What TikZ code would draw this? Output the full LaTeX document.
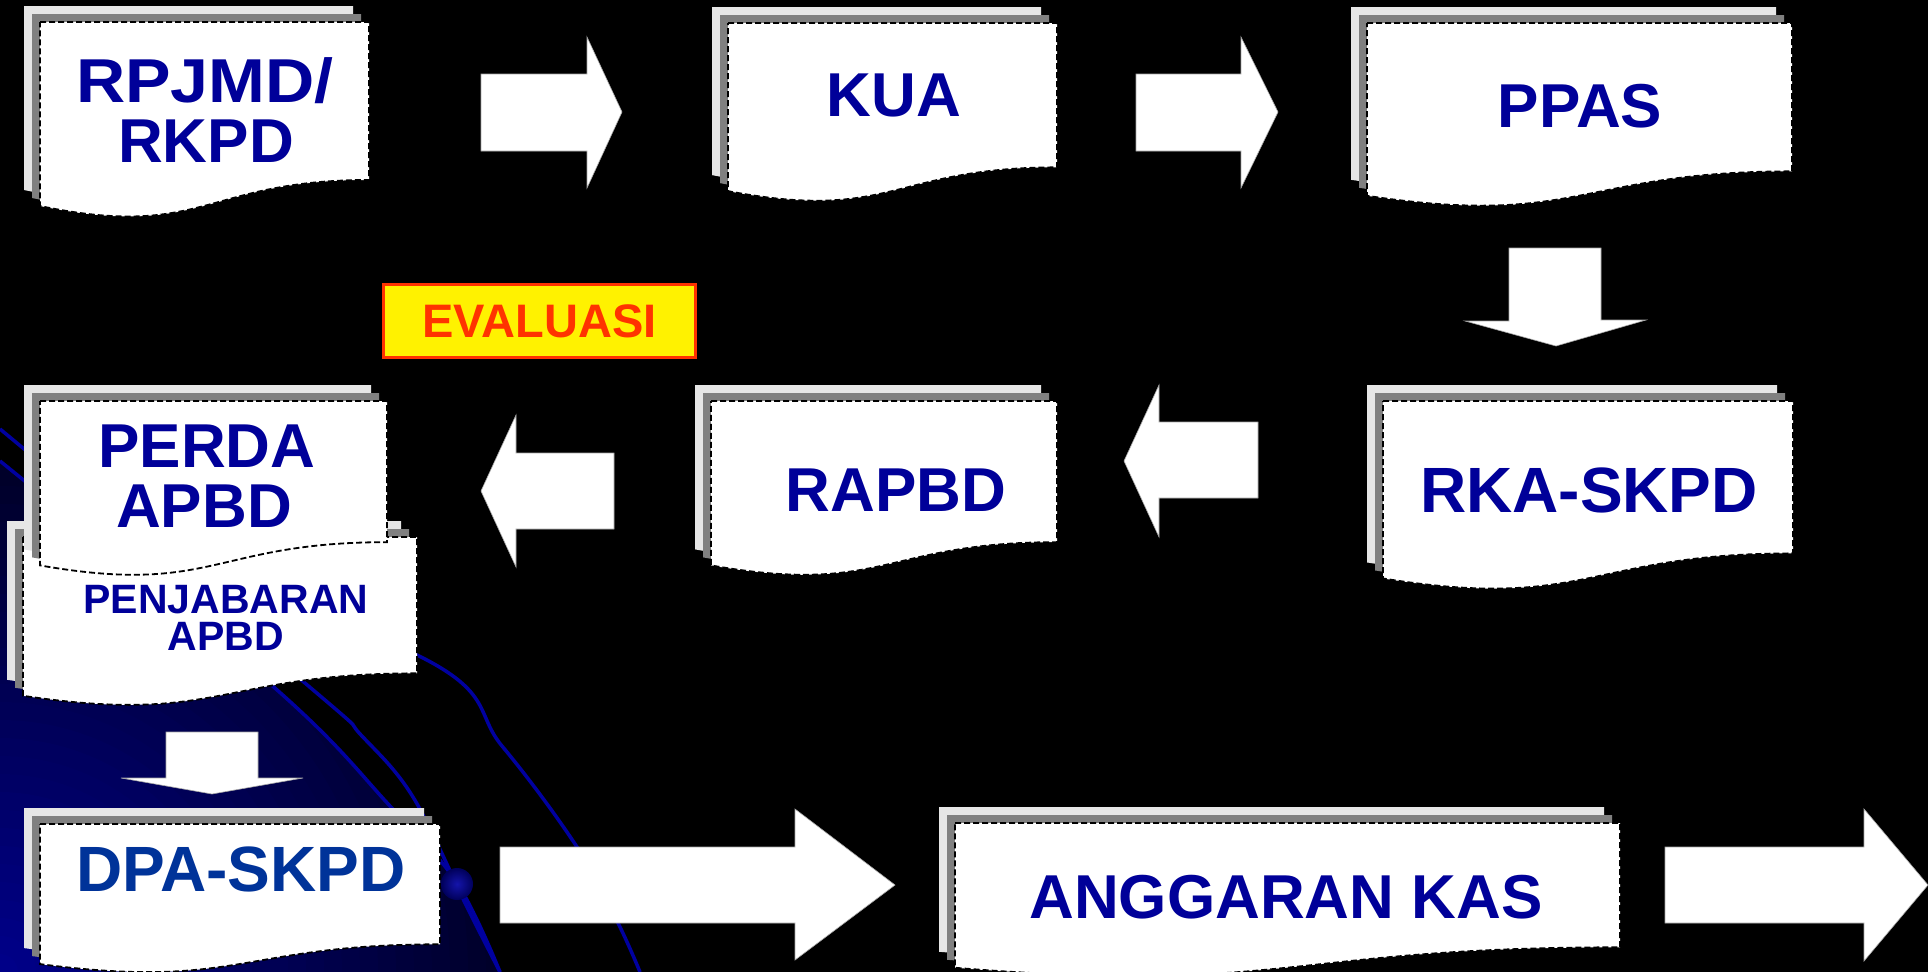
\documentclass[tikz,border=0pt]{standalone}
\usepackage{fontspec}
\setmainfont{Liberation Sans}
\definecolor{txtblue}{RGB}{0,0,153}
\definecolor{dpablue}{RGB}{0,51,153}
\definecolor{evred}{RGB}{255,51,0}
\definecolor{sheetlight}{RGB}{230,230,230}
\definecolor{sheetdark}{RGB}{128,128,128}
\definecolor{orbit}{RGB}{0,0,160}
\definecolor{glow}{RGB}{0,0,140}
\definecolor{ballin}{RGB}{20,20,170}
\definecolor{ballout}{RGB}{0,0,90}
\tikzset{
  frontsheet/.style={fill=white, draw=black, line width=1.8pt, dash pattern=on 6pt off 3pt},
  lightsheet/.style={fill=sheetlight},
  darksheet/.style={fill=sheetdark},
  blockarrow/.style={fill=white, draw=gray!70, line width=0.6pt},
  orbitline/.style={draw=orbit, line width=3.5pt},
  doclabel/.style={text=txtblue, font=\fontsize{62}{62}\selectfont\bfseries, anchor=base, inner sep=0pt},
  biglabel/.style={doclabel, font=\fontsize{64}{64}\selectfont\bfseries},
  smalllabel/.style={doclabel, font=\fontsize{41}{41}\selectfont\bfseries},
  evalbox/.style={draw=evred, fill=yellow, line width=3pt, text=evred,
    font=\fontsize{47}{47}\selectfont\bfseries, minimum width=312pt, minimum height=73pt, inner sep=0pt}
}
\newcommand{\docsheet}[5]{%
  \path[#5] ({#1},{#2}) -- ({#1+#3},{#2}) -- ({#1+#3},{#2+0.802*#4})
    .. controls ({#1+0.5*#3},{#2+0.802*#4}) and ({#1+0.5*#3},{#2+1.1075*#4}) .. ({#1},{#2+0.934*#4}) -- cycle;}
\newcommand{\multidoc}[4]{%
  \docsheet{#1-16}{#2-16}{#3}{#4}{lightsheet}%
  \docsheet{#1-8}{#2-8}{#3}{#4}{darksheet}%
  \docsheet{#1}{#2}{#3}{#4}{frontsheet}}
\begin{document}
\begin{tikzpicture}[x=1pt,y=-1pt]
\useasboundingbox (0,0) rectangle (1928,972);
\fill[black] (0,0) rectangle (1928,972);
% background glow in the lower left
\begin{scope}
  \clip plot[smooth,tension=0.6] coordinates {(0,461) (276,689) (390,806) (457,883) (500,972)} -- (0,972) -- cycle;
  \foreach \i in {0,...,39} {
    \pgfmathsetmacro\pc{2.5*\i}
    \pgfmathsetmacro\rr{720*(1-\i/40)}
    \fill[glow!\pc!black] (0,972) circle (\rr pt);
  }
\end{scope}
% orbit lines
\draw[orbitline] plot[smooth,tension=0.6] coordinates {(0,461) (276,689) (390,806) (457,883) (500,972)};
\draw[orbitline] plot[smooth,tension=0.6] coordinates {(0,429) (312,689) (361,735) (413,797) (467,907) (500,972)};
\draw[orbitline] plot[smooth,tension=0.6] coordinates {(40,520) (417,655) (502,746) (577,847) (618,923) (640,972)};
\shade[inner color=ballin, outer color=ballout] (457,884) circle (16pt);
% documents
\multidoc{40}{22}{329}{197}
\multidoc{728}{23}{329}{180}
\multidoc{1367}{23}{425}{185}
\multidoc{1383}{401}{410}{190}
\multidoc{711}{401}{346}{176}
\multidoc{23}{537}{394}{170}
\multidoc{40}{401}{347}{176}
\multidoc{40}{824}{400}{150}
\multidoc{955}{823}{665}{155}
% block arrows
\fill[blockarrow] (481,74) -- (587,74) -- (587,37) -- (622,112) -- (587,188) -- (587,151) -- (481,151) -- cycle;
\fill[blockarrow] (1136,74) -- (1241,74) -- (1241,37) -- (1278,112) -- (1241,188) -- (1241,151) -- (1136,151) -- cycle;
\fill[blockarrow] (1509,248) -- (1601,248) -- (1601,320) -- (1646,320) -- (1556,346) -- (1465,321) -- (1509,321) -- cycle;
\fill[blockarrow] (1258,422) -- (1159,422) -- (1159,385) -- (1124,461) -- (1159,537) -- (1159,498) -- (1258,498) -- cycle;
\fill[blockarrow] (614,453) -- (516,453) -- (516,415) -- (481,491) -- (516,567) -- (516,529) -- (614,529) -- cycle;
\fill[blockarrow] (166,732) -- (258,732) -- (258,778) -- (303,778) -- (212,794) -- (121,778) -- (166,778) -- cycle;
\fill[blockarrow] (500,847) -- (795,847) -- (795,809) -- (895,885) -- (795,960) -- (795,923) -- (500,923) -- cycle;
\fill[blockarrow] (1665,847) -- (1864,847) -- (1864,809) -- (1928,885) -- (1864,961) -- (1864,923) -- (1665,923) -- cycle;
% labels
\node[doclabel] (rpjmdA) at (205,102) {\scalebox{1.1}[1]{RPJMD/}};
\node[doclabel] (rpjmdB) at (206,162) {RKPD};
\node[doclabel] (kua) at (894,116) {KUA};
\node[doclabel] (ppas) at (1580,127) {PPAS};
\node[biglabel] (rka) at (1589,512) {RKA-SKPD};
\node[doclabel] (rapbd) at (896,511) {RAPBD};
\node[doclabel] (perdaA) at (207,467) {PERDA};
\node[doclabel] (perdaB) at (204,527) {APBD};
\node[smalllabel] (penjA) at (226,613) {PENJABARAN};
\node[smalllabel] (penjB) at (226,650) {APBD};
\node[biglabel, text=dpablue] (dpa) at (241,891) {DPA-SKPD};
\node[doclabel] (kas) at (1286,918) {ANGGARAN KAS};
\node[evalbox] (eval) at (539.5,321) {EVALUASI};
\end{tikzpicture}
\end{document}
